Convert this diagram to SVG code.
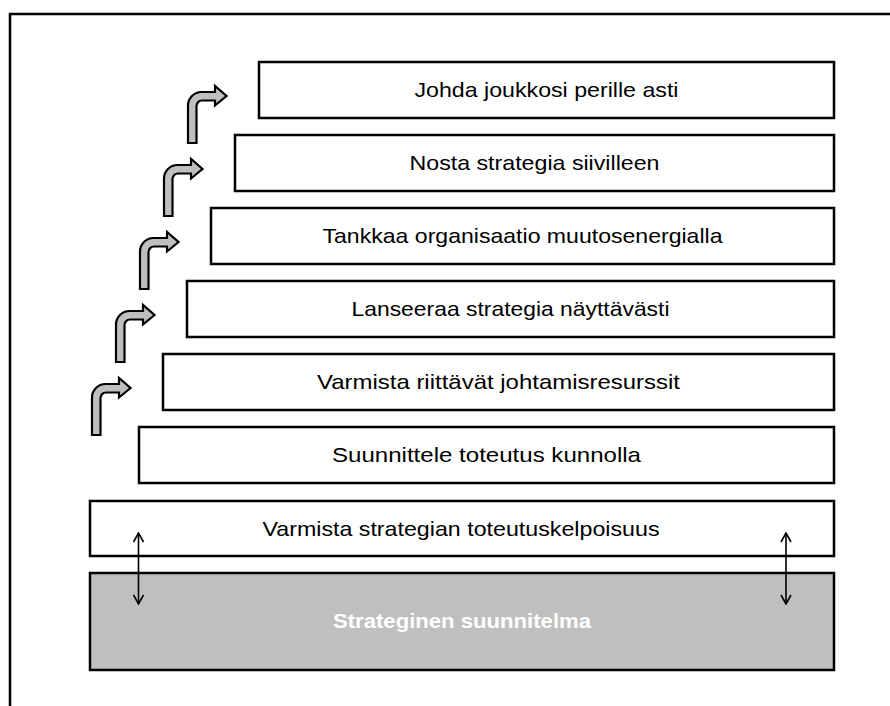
<svg xmlns="http://www.w3.org/2000/svg" xmlns:xlink="http://www.w3.org/1999/xlink" width="890" height="706" viewBox="0 0 890 706">
  <style>
    .step { fill: #FFFFFF; stroke: #000000; stroke-width: 2.5; }
    .base { fill: #BFBFBF; stroke: #000000; stroke-width: 2.5; }
    .label { font-family: "Liberation Sans", Arial, sans-serif; font-size: 21px; fill: #000000; text-anchor: middle; }
    .label-base { font-family: "Liberation Sans", Arial, sans-serif; font-size: 21px; font-weight: bold; fill: #FFFFFF; text-anchor: middle; }
    .bent { fill: #BFBFBF; stroke: #000000; stroke-width: 2.2; stroke-linejoin: miter; }
    .link { fill: none; stroke: #000000; stroke-width: 1.6; }
  </style>
  <defs>
    <!-- bent "step up" arrow -->
    <path id="bentArrow" class="bent" d="M188,143 V105.5 A13.5,13.5 0 0 1 201.5,92 H215 V86 L226.5,96 L215,105.5 V100.5 H202 A5.5,5.5 0 0 0 196.5,106 V143 Z"/>
    <marker id="chev" viewBox="0 0 12 12" refX="11" refY="6" markerWidth="12" markerHeight="12" markerUnits="userSpaceOnUse" orient="auto-start-reverse">
      <path d="M2,1 L11,6 L2,11" fill="none" stroke="#000000" stroke-width="1.6"/>
    </marker>
  </defs>

  <rect width="890" height="706" fill="#FFFFFF"/>

  <!-- outer frame -->
  <path d="M10,706 V14 H890" fill="none" stroke="#000000" stroke-width="2.5"/>

  <g id="step-johda">
    <rect class="step" x="259" y="62" width="575" height="56"/>
    <text class="label" x="546.5" y="97" textLength="264" lengthAdjust="spacingAndGlyphs">Johda joukkosi perille asti</text>
  </g>
  <g id="step-nosta">
    <rect class="step" x="235" y="135" width="599" height="56"/>
    <text class="label" x="534.5" y="170" textLength="250" lengthAdjust="spacingAndGlyphs">Nosta strategia siivilleen</text>
  </g>
  <g id="step-tankkaa">
    <rect class="step" x="211" y="208" width="623" height="56"/>
    <text class="label" x="522.5" y="243" textLength="400" lengthAdjust="spacingAndGlyphs">Tankkaa organisaatio muutosenergialla</text>
  </g>
  <g id="step-lanseeraa">
    <rect class="step" x="187" y="281" width="647" height="56"/>
    <text class="label" x="510.5" y="316" textLength="318" lengthAdjust="spacingAndGlyphs">Lanseeraa strategia näyttävästi</text>
  </g>
  <g id="step-varmista-resurssit">
    <rect class="step" x="163" y="354" width="671" height="56"/>
    <text class="label" x="498.5" y="389" textLength="363" lengthAdjust="spacingAndGlyphs">Varmista riittävät johtamisresurssit</text>
  </g>
  <g id="step-suunnittele">
    <rect class="step" x="139" y="427" width="695" height="56"/>
    <text class="label" x="486.5" y="462" textLength="309" lengthAdjust="spacingAndGlyphs">Suunnittele toteutus kunnolla</text>
  </g>
  <g id="step-toteutuskelpoisuus">
    <rect class="step" x="90" y="501" width="744" height="55"/>
    <text class="label" x="461" y="536" textLength="397" lengthAdjust="spacingAndGlyphs">Varmista strategian toteutuskelpoisuus</text>
  </g>
  <g id="base-plan">
    <rect class="base" x="90" y="573" width="744" height="97"/>
    <text class="label-base" x="462" y="628" textLength="258" lengthAdjust="spacingAndGlyphs">Strateginen suunnitelma</text>
  </g>

  <g id="connectors">
    <use xlink:href="#bentArrow"/>
    <use xlink:href="#bentArrow" transform="translate(-24,73)"/>
    <use xlink:href="#bentArrow" transform="translate(-48,146)"/>
    <use xlink:href="#bentArrow" transform="translate(-72,219)"/>
    <use xlink:href="#bentArrow" transform="translate(-96,292)"/>
    <line class="link" x1="138.5" y1="533" x2="138.5" y2="604" marker-start="url(#chev)" marker-end="url(#chev)"/>
    <line class="link" x1="786" y1="533" x2="786" y2="604" marker-start="url(#chev)" marker-end="url(#chev)"/>
  </g>
</svg>
